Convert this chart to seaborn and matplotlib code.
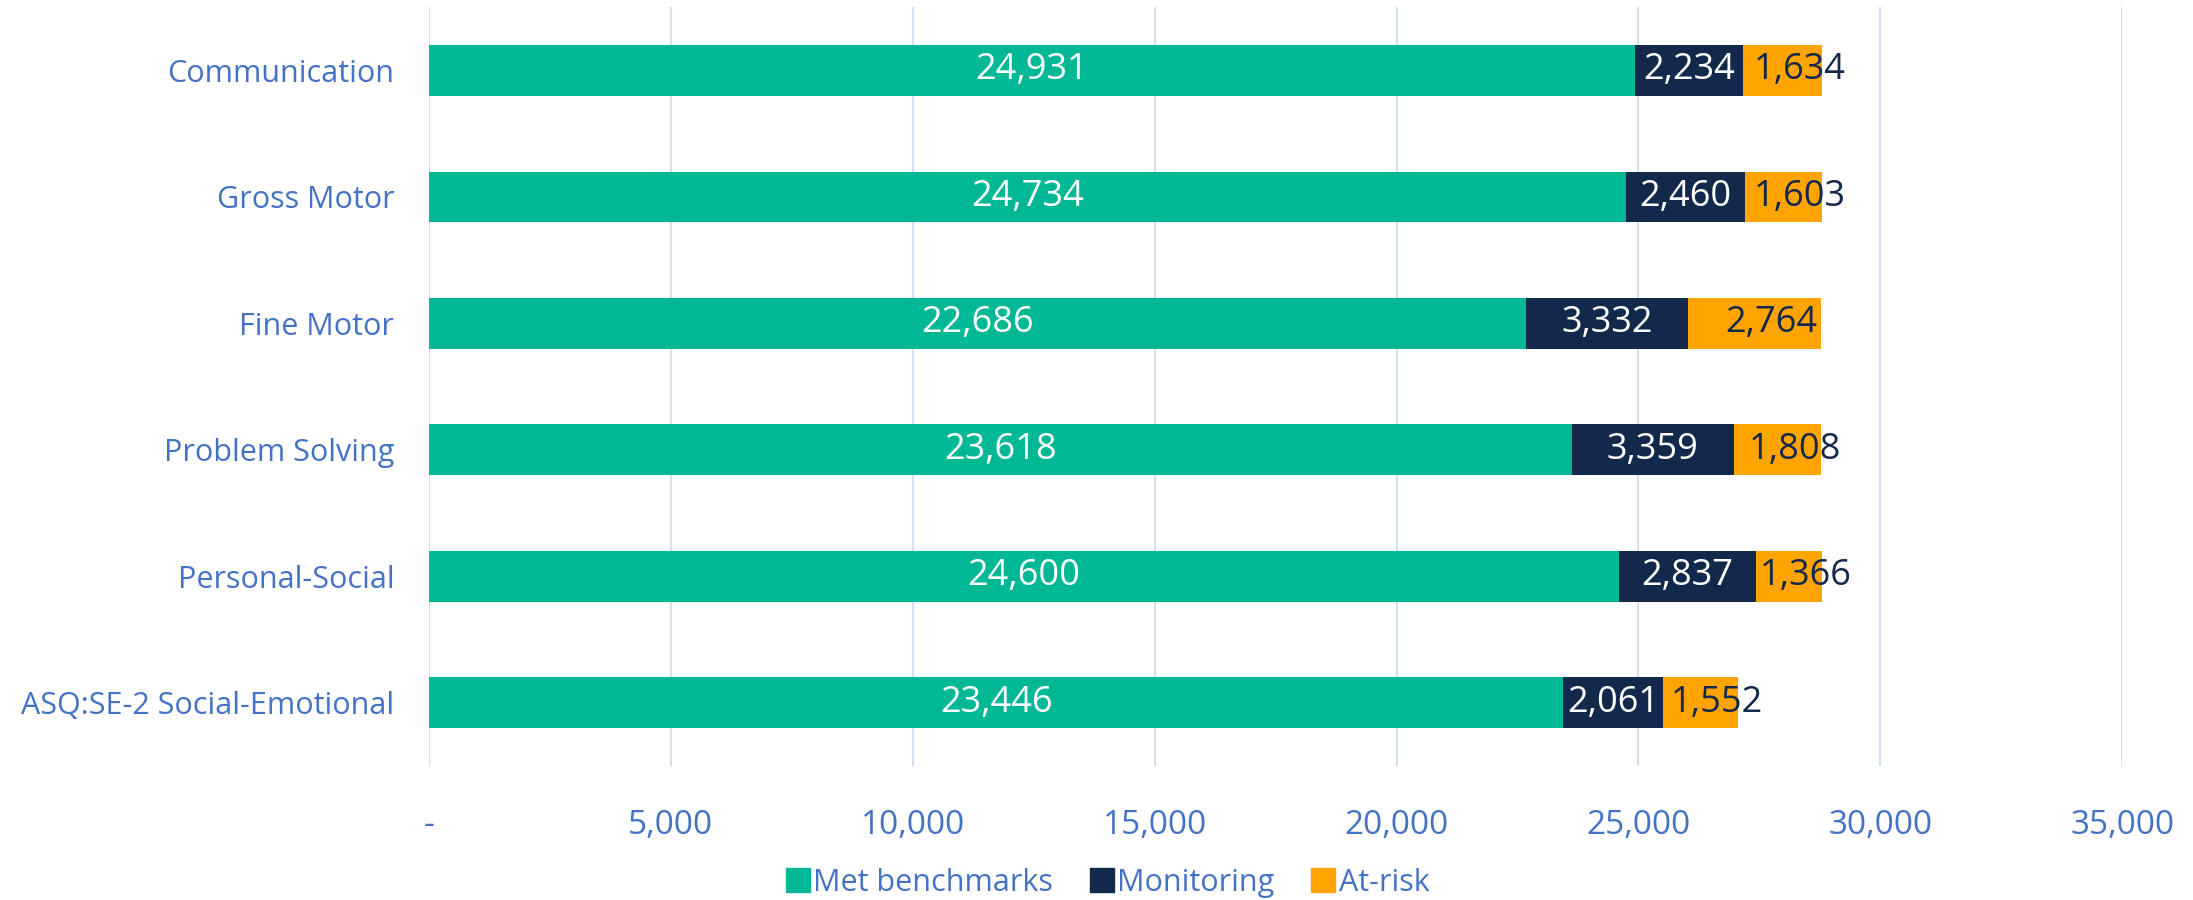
import matplotlib
matplotlib.use("Agg")
import matplotlib.pyplot as plt
from matplotlib.lines import Line2D
from matplotlib.ticker import FuncFormatter
import numpy as np
import pandas as pd
import seaborn as sns

sns.set_theme(style="white")
plt.rcParams["font.family"] = ["Open Sans", "DejaVu Sans"]

domains = ["Communication", "Gross Motor", "Fine Motor", "Problem Solving",
           "Personal-Social", "ASQ:SE-2 Social-Emotional"]
met = [24931, 24734, 22686, 23618, 24600, 23446]
monitoring = [2234, 2460, 3332, 3359, 2837, 2061]
at_risk = [1634, 1603, 2764, 1808, 1366, 1552]
series = ["Met benchmarks", "Monitoring", "At-risk"]

TEAL, NAVY, ORANGE = "#00B894", "#13294B", "#FFA400"
BLUE = "#4472C4"
GRID = "#D5DFF2"

df = pd.DataFrame({"domain": domains, "met": met, "mon": monitoring, "risk": at_risk})
df["c1"] = df.met
df["c2"] = df.met + df.mon
df["c3"] = df.c2 + df.risk

fig, ax = plt.subplots(figsize=(21.93, 9), dpi=100)
fig.subplots_adjust(left=0.1956, right=0.9677, top=0.992, bottom=0.149)

# stacked look: draw cumulative totals from the back to the front
for col, color in [("c3", ORANGE), ("c2", NAVY), ("c1", TEAL)]:
    sns.barplot(data=df, x=col, y="domain", order=domains, color=color,
                width=0.4, saturation=1, ax=ax, linewidth=0)

for i, row in df.iterrows():
    ax.text(row.met / 2, i, f"{row.met:,}", ha="center", va="center",
            color="white", fontsize=26)
    ax.text(row.met + row.mon / 2, i, f"{row.mon:,}", ha="center", va="center",
            color="white", fontsize=26)
    # at-risk labels sit a little right of centre, spilling past the bar
    ax.annotate(f"{row.risk:,}", (row.c2 + row.risk / 2, i), xytext=(12, 0),
                textcoords="offset points", ha="center", va="center",
                color=NAVY, fontsize=26)

ax.set_xlim(0, 35000)
ax.set_ylim(5.5, -0.5)
ax.set_xticks(np.arange(0, 35001, 5000))
ax.xaxis.set_major_formatter(FuncFormatter(lambda v, p: "-" if v == 0 else f"{int(v):,}"))
ax.grid(axis="x", color=GRID, linewidth=1.5)
ax.set_axisbelow(True)
sns.despine(ax=ax, left=True, bottom=True)
ax.set_xlabel("")
ax.set_ylabel("")
ax.tick_params(axis="y", length=0, pad=25, labelsize=22, labelcolor=BLUE)
ax.tick_params(axis="x", length=0, pad=31, labelsize=24, labelcolor=BLUE)

handles = [Line2D([], [], marker="s", linestyle="none", markersize=17,
                  markerfacecolor=c, markeredgecolor=c) for c in (TEAL, NAVY, ORANGE)]
leg = fig.legend(handles, series, loc="lower center", bbox_to_anchor=(0.505, -0.028),
                 ncol=3, frameon=False, fontsize=22, handletextpad=0.1,
                 columnspacing=1.2, handlelength=0.8)
for t in leg.get_texts():
    t.set_color(BLUE)

fig.savefig("out.png", dpi=100)
